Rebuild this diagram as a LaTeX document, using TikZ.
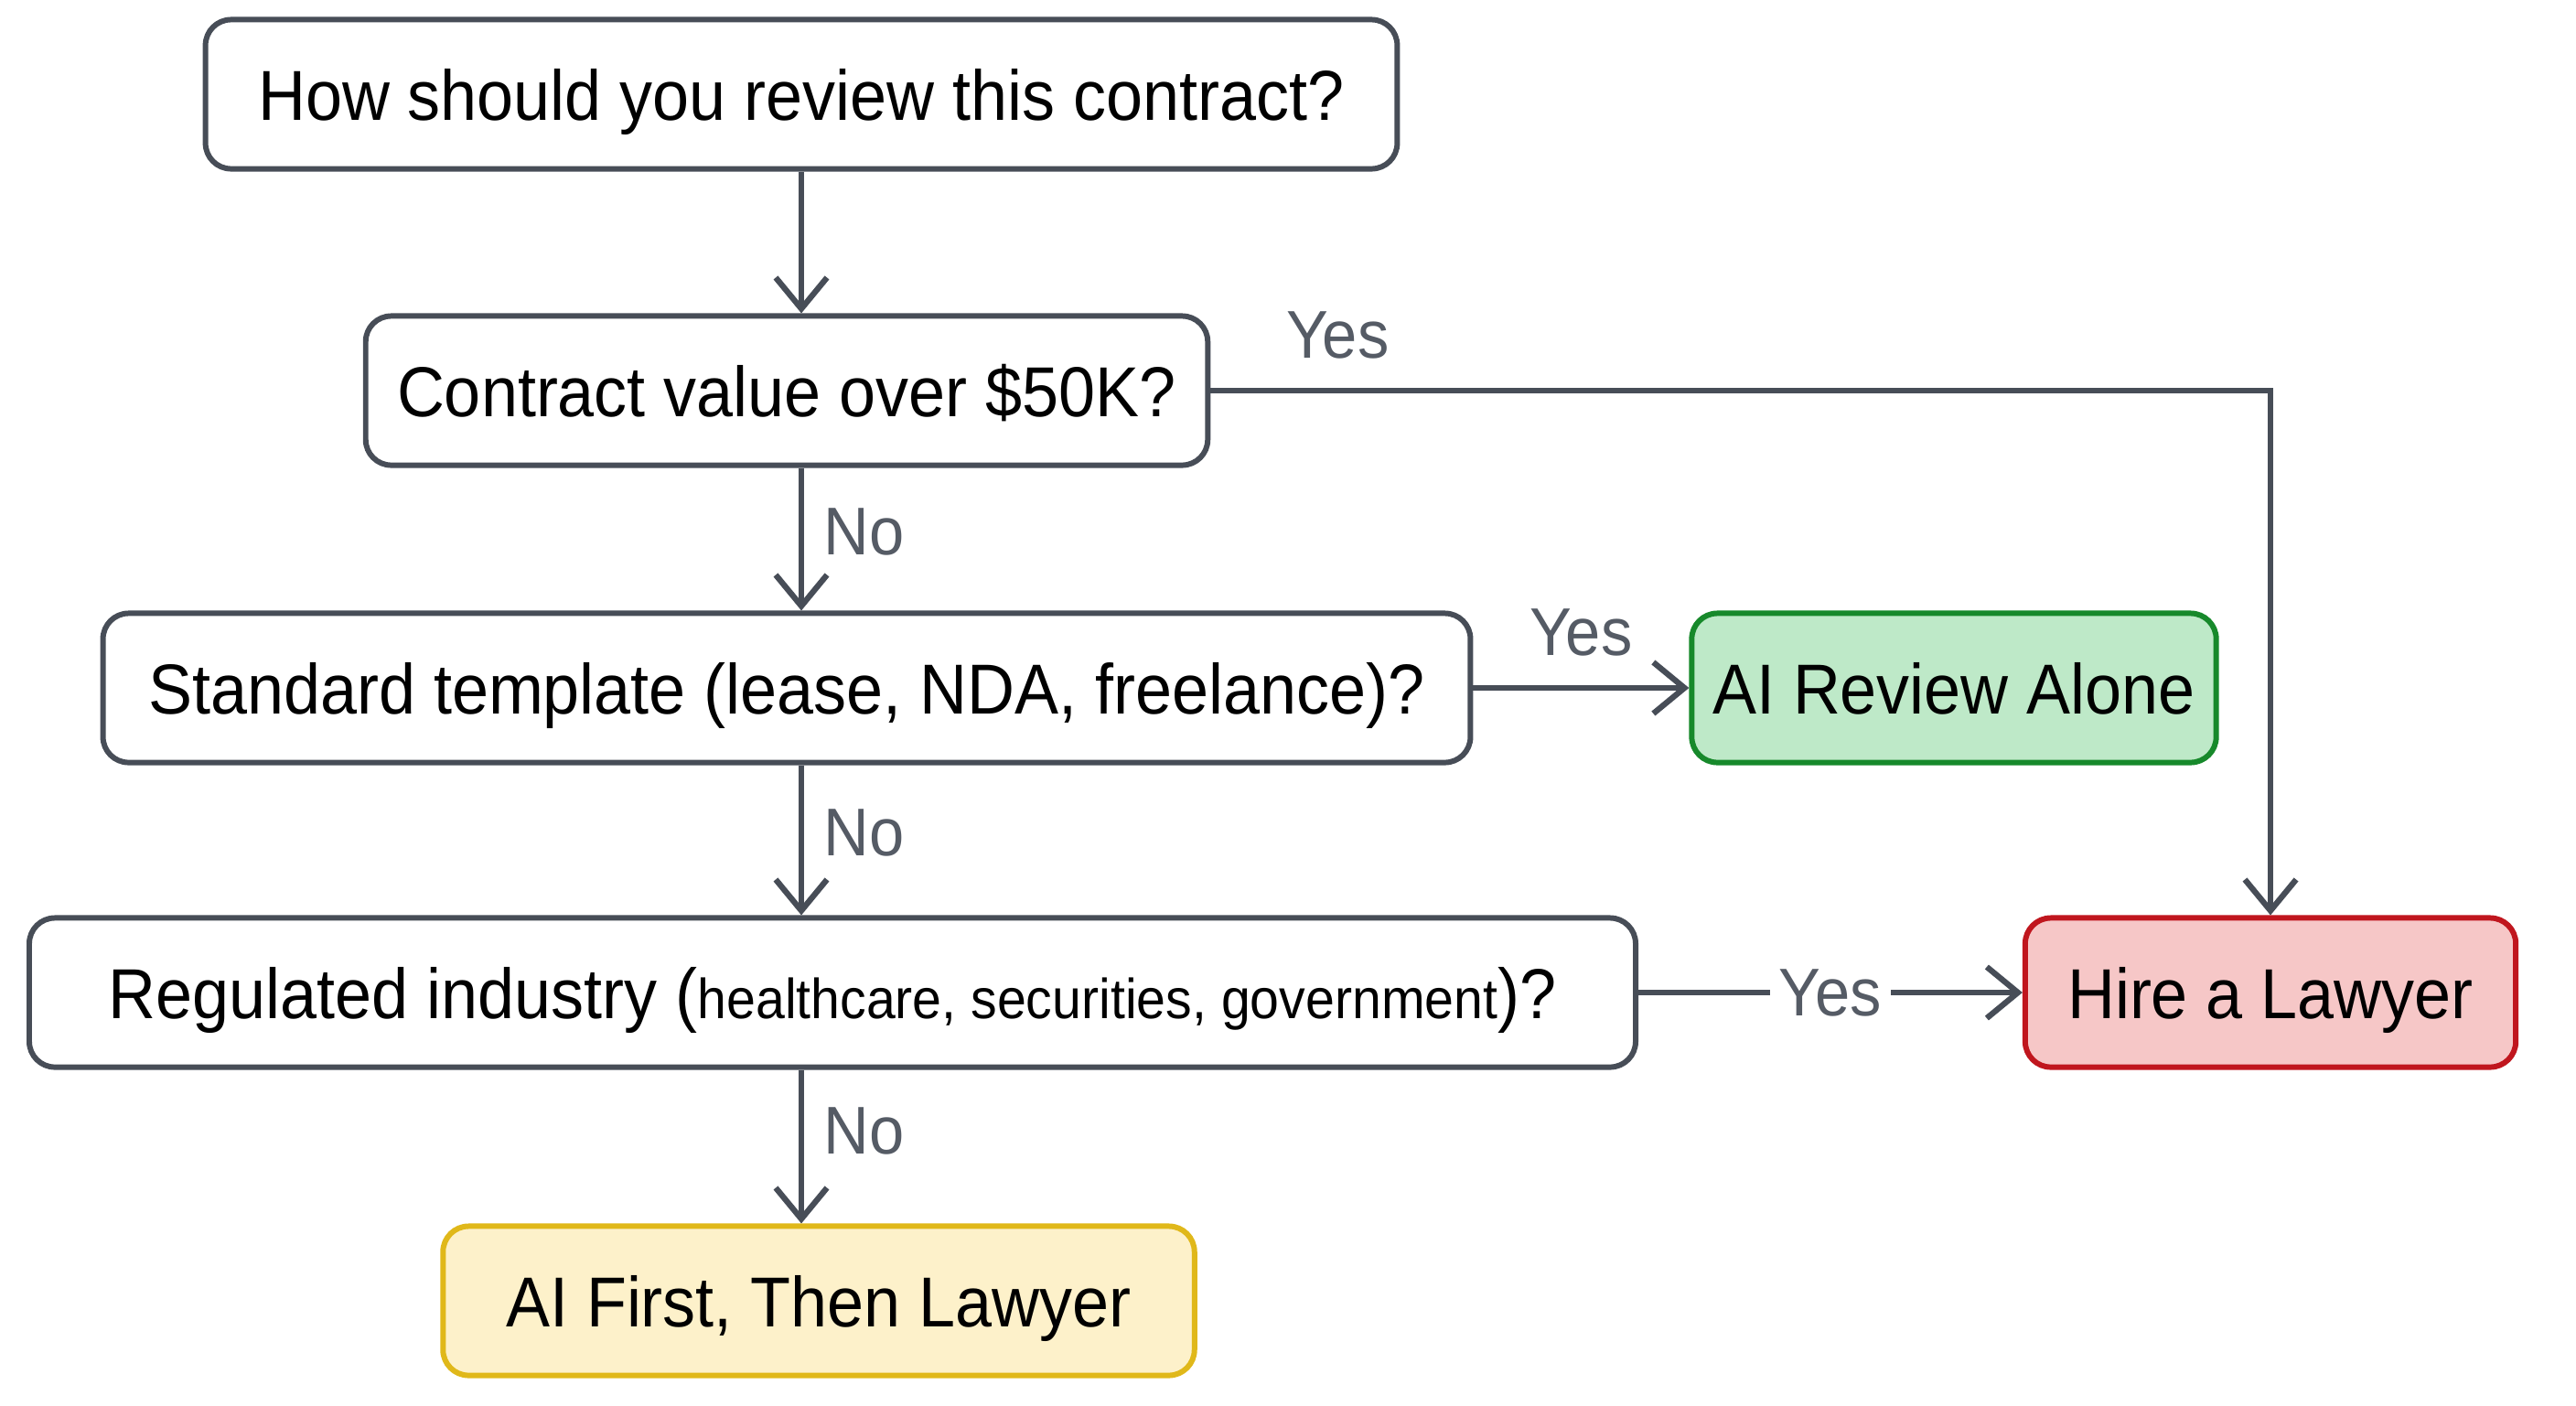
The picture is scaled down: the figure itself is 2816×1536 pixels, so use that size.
\documentclass[tikz,border=0pt]{standalone}
\usepackage{fontspec}
\setmainfont{Liberation Sans}[FakeStretch=0.93]
\usetikzlibrary{positioning,arrows.meta,calc}
\definecolor{linegray}{HTML}{474D57}
\definecolor{labelgray}{HTML}{555B65}
\definecolor{okfill}{HTML}{BEE9C8}
\definecolor{okdraw}{HTML}{17892B}
\definecolor{nofill}{HTML}{F6C7C7}
\definecolor{nodraw}{HTML}{C0161E}
\definecolor{midfill}{HTML}{FDF1CA}
\definecolor{middraw}{HTML}{E0B81A}

\begin{document}
\begin{tikzpicture}[x=0.01cm,y=-0.01cm,
    box/.style={draw=linegray, line width=1.7pt, rounded corners=0.28cm, fill=white,
      minimum height=1.63cm, inner sep=0pt, text depth=0pt, font=\fontsize{22}{26}\selectfont},
    flow/.style={draw=linegray, line width=1.8pt, -{Straight Barb[length=3.4mm,width=5.6mm]}},
    lbl/.style={text=labelgray, font=\fontsize{21}{24}\selectfont}]
  \useasboundingbox (0,0) rectangle (2816,1536);

  % questions
  \node[box, minimum width=13.02cm] (ask) at (876,103) {How should you review this contract?};
  \node[box, minimum width=9.20cm] (value) at (860,427) {Contract value over \$50K?};
  \node[box, minimum width=14.94cm] (tmpl) at (860,752) {Standard template (lease, NDA, freelance)?};
  \node[box, minimum width=17.55cm] (reg) at (910,1085)
    {Regulated industry ({\fontsize{17.5}{20}\selectfont healthcare, securities, government})?};

  % outcomes
  \node[box, draw=okdraw, fill=okfill, minimum width=5.73cm] (alone) at (2136,752) {AI Review Alone};
  \node[box, draw=nodraw, fill=nofill, minimum width=5.36cm] (hire) at (2482,1085) {Hire a Lawyer};
  \node[box, draw=middraw, fill=midfill, minimum width=8.21cm] (first) at (895,1422) {AI First, Then Lawyer};

  % connectors
  \draw[flow] (ask.south) -- (ask.south |- value.north);
  \draw[flow] (value.south -| ask.south) -- node[lbl, right=1mm, pos=0.45]{No} (tmpl.north -| ask.south);
  \draw[flow] (tmpl.south -| ask.south) -- node[lbl, right=1mm, pos=0.45]{No} (reg.north -| ask.south);
  \draw[flow] (reg.south -| ask.south) -- node[lbl, right=1mm, pos=0.4]{No} (first.north -| ask.south);
  \draw[flow] (value.east) -| node[lbl, above=2mm, pos=0.06]{Yes} (hire.north);
  \draw[flow] (tmpl.east) -- node[lbl, above=2mm]{Yes} (alone.west);
  \draw[flow] (reg.east) -- node[lbl, fill=white, inner xsep=1mm]{Yes} (hire.west);
\end{tikzpicture}
\end{document}
